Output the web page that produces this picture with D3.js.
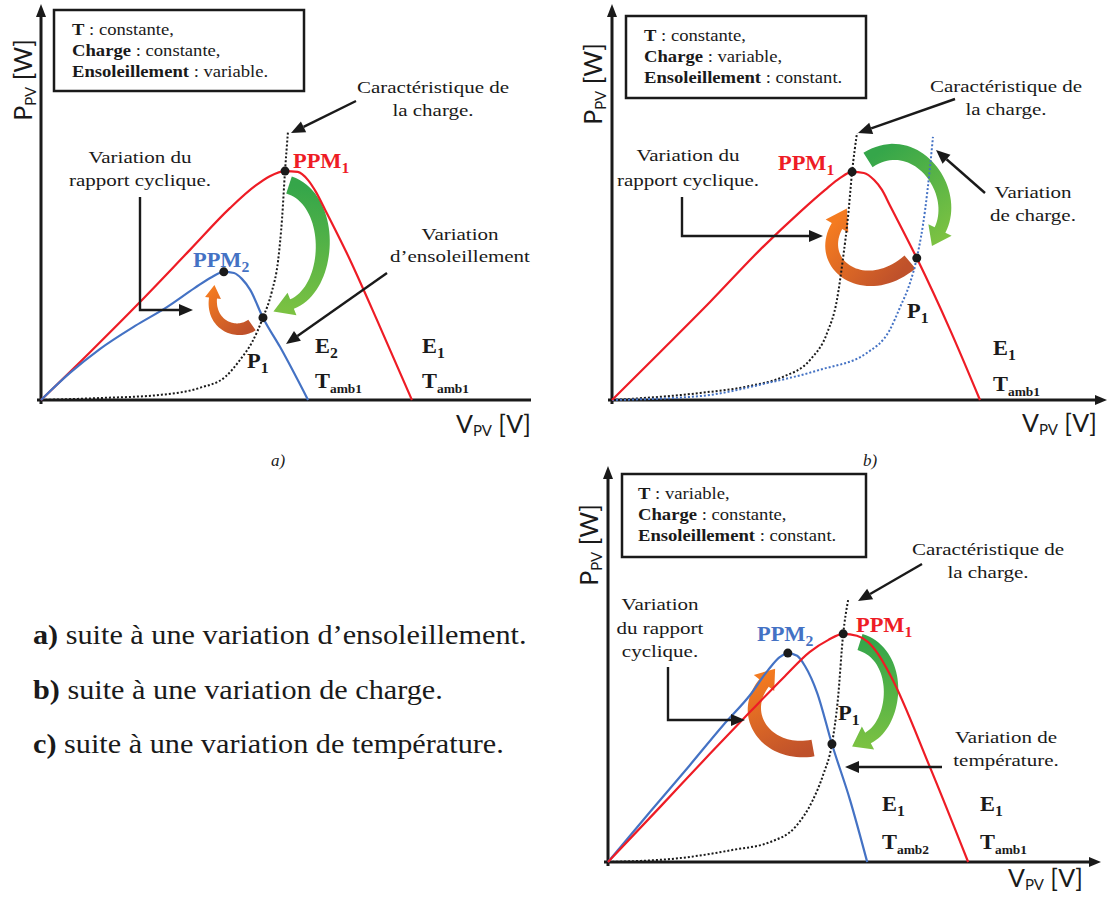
<!DOCTYPE html>
<html lang="fr">
<head>
<meta charset="UTF-8">
<title>Variation du point de puissance maximale</title>
<script src="https://d3js.org/d3.v7.min.js"></script>
<style>
  html, body { margin: 0; padding: 0; background: #fff; }
  svg { display: block; }
</style>
</head>
<body>
<svg id="fig" width="1108" height="897"></svg>
<script>
// Courbes P(V) normalisees : [V, P] en % de l'echelle de chaque cadre

// a) ensoleillement variable
var aE1 = [[0,0],[10.0,12.2],[20.2,25.0],[30.4,38.3],[38.6,49.0],[43.7,54.6],[46.7,57.1],[49.8,58.4],[52.4,58.2],[54.5,56.1],[56.1,53.1],[58.0,48.5],[62.4,37.5],[69.2,18.6],[75.7,0]];
var aE2 = [[0,0],[5.9,6.9],[12.0,13.0],[19.2,18.9],[25.7,23.7],[31.4,28.6],[34.9,31.4],[37.3,32.7],[39.4,32.4],[41.0,30.9],[42.7,28.1],[45.3,21.0],[48.8,13.5],[54.5,0]];
var aCharge = [[0,0],[12.0,0.5],[24.3,1.3],[32.4,3.1],[37.6,5.9],[40.6,10.2],[43.1,14.8],[45.3,21.0],[47.1,27.6],[48.4,35.7],[49.2,46.4],[49.8,58.4],[50.4,68.4]];
var aPoints = [[49.8,58.4],[37.3,32.7],[45.3,21.0]]; // PPM1, PPM2, P1

// b) charge variable
var bE1 = [[0,0],[9.8,12.2],[20.0,25.0],[30.2,38.3],[38.4,48.0],[43.5,53.6],[46.5,56.6],[49.0,58.2],[51.4,57.9],[53.5,56.1],[55.1,53.6],[56.7,49.7],[62.2,36.2],[69.0,17.9],[75.1,0]];
var bCharge1 = [[0,0],[18.0,1.8],[28.2,3.6],[34.9,5.9],[40.4,10.2],[43.9,17.1],[45.9,25.5],[47.1,35.7],[48.2,47.2],[49.0,58.2],[50.0,68.1]];
var bCharge2 = [[0,0],[18.0,1.0],[31.6,4.3],[42.4,7.7],[52.0,12.0],[56.7,17.9],[58.8,23.7],[60.8,29.8],[62.2,36.2],[63.9,48.5],[64.9,59.4],[65.5,67.1]];
var bPoints = [[49.0,58.2],[62.2,36.2]]; // PPM1, P1

// c) temperature variable
var cT1 = [[0,0],[10.6,14.0],[20.8,27.6],[29.0,38.3],[36.1,47.4],[41.2,53.6],[44.9,56.6],[48.0,58.2],[50.8,57.7],[53.1,56.1],[55.1,53.1],[57.6,47.7],[65.7,24.2],[73.5,0]];
var cT2 = [[0,0],[8.6,12.8],[16.7,24.7],[23.5,34.9],[29.0,42.6],[32.7,49.0],[35.1,52.3],[36.7,53.3],[38.6,52.6],[40.2,50.0],[42.7,43.1],[45.7,30.1],[49.4,15.8],[52.9,0]];
var cCharge = [[0,0],[14.7,1.0],[25.5,3.1],[33.1,5.1],[38.2,8.9],[41.8,15.8],[43.9,22.2],[45.7,30.1],[46.9,41.3],[48.0,58.2],[49.0,66.8]];
var cPoints = [[48.0,58.2],[36.7,53.3],[45.7,30.1]]; // PPM1, PPM2, P1

var SERIF = '"Liberation Serif", "Times New Roman", serif';
var SANS = 'Lato, "Noto Sans", "Liberation Sans", sans-serif';
var INK = "#1a1a1a";
var RED = "#ee1c25";
var BLUE = "#4472c4";
var GREEN = ["#35a64a", "#7cc242"];
var ORANGE = ["#bf512b", "#f47b20"];

var svg = d3.select("#fig");
var defs = svg.append("defs");
svg.append("rect").attr("width", 1108).attr("height", 897).attr("fill", "#fff");
var gradCount = 0;

// texte compose : parties en gras / indice
function addText(g, x, y, parts, o) {
  o = o || {};
  var tr = "translate(" + x + "," + y + ")" + (o.rot ? " rotate(" + o.rot + ")" : "") + " scale(" + (o.sx || 1) + ",1)";
  var t = g.append("text")
    .attr("transform", tr)
    .attr("font-family", o.font || SERIF)
    .attr("font-size", o.size || 17)
    .attr("fill", o.fill || INK)
    .attr("text-anchor", o.anchor || "start");
  var shift = 0;
  parts.forEach(function (p) {
    if (typeof p === "string") p = { t: p };
    var s = t.append("tspan").text(p.t);
    var target = p.sub ? (o.subDy || 5) : 0;
    if (target !== shift) { s.attr("dy", target - shift); shift = target; }
    if (p.b || o.bold) s.attr("font-weight", "bold");
    if (p.i || o.italic) s.attr("font-style", "italic");
    if (p.sub) s.attr("font-size", o.subSize || 13);
  });
  return t;
}

function arrowLine(g, pts, o) {
  o = o || {};
  var n = pts.length, a = pts[n - 2], b = pts[n - 1];
  var dx = b[0] - a[0], dy = b[1] - a[1], L = Math.hypot(dx, dy), ux = dx / L, uy = dy / L;
  var hl = o.hl || 14, hw = o.hw || 6;
  var base = [b[0] - ux * hl, b[1] - uy * hl];
  g.append("path")
    .attr("d", d3.line()(pts.slice(0, n - 1).concat([base])))
    .attr("fill", "none").attr("stroke", INK).attr("stroke-width", o.w || 2.4);
  g.append("path")
    .attr("d", d3.line()([b, [base[0] - uy * hw, base[1] + ux * hw], [base[0] + uy * hw, base[1] - ux * hw]]) + "Z")
    .attr("fill", INK);
}

// fleche courbe epaisse (bezier cubique) avec degrade
function bandArrow(g, a) {
  var P = a.p;
  function bez(t) {
    var u = 1 - t;
    return [0, 1].map(function (k) {
      return u*u*u*P[0][k] + 3*u*u*t*P[1][k] + 3*u*t*t*P[2][k] + t*t*t*P[3][k];
    });
  }
  function der(t) {
    var u = 1 - t;
    return [0, 1].map(function (k) {
      return 3*u*u*(P[1][k]-P[0][k]) + 6*u*t*(P[2][k]-P[1][k]) + 3*t*t*(P[3][k]-P[2][k]);
    });
  }
  var left = [], right = [];
  d3.range(41).forEach(function (i) {
    var t = i / 40, p = bez(t), d = der(t), L = Math.hypot(d[0], d[1]);
    var nx = -d[1] / L, ny = d[0] / L, w = (a.w0 + (a.w1 - a.w0) * t) / 2;
    left.push([p[0] + nx * w, p[1] + ny * w]);
    right.push([p[0] - nx * w, p[1] - ny * w]);
  });
  var d1 = der(1), L1 = Math.hypot(d1[0], d1[1]), ux = d1[0] / L1, uy = d1[1] / L1;
  var e = P[3], tip = [e[0] + ux * a.hl, e[1] + uy * a.hl];
  var h1 = [e[0] - uy * a.hw / 2, e[1] + ux * a.hw / 2], h2 = [e[0] + uy * a.hw / 2, e[1] - ux * a.hw / 2];
  var id = "grad" + (gradCount++);
  var lg = defs.append("linearGradient").attr("id", id).attr("gradientUnits", "userSpaceOnUse")
    .attr("x1", P[0][0]).attr("y1", P[0][1]).attr("x2", tip[0]).attr("y2", tip[1]);
  lg.append("stop").attr("offset", "0%").attr("stop-color", a.c[0]);
  lg.append("stop").attr("offset", "100%").attr("stop-color", a.c[1]);
  var poly = left.concat([h1, tip, h2]).concat(right.reverse());
  g.append("path").attr("d", d3.line()(poly) + "Z").attr("fill", "url(#" + id + ")");
}

function drawPanel(p) {
  var g = svg.append("g");
  var x = d3.scaleLinear().domain([0, 100]).range([p.origin[0], p.origin[0] + 490]);
  var y = d3.scaleLinear().domain([0, 100]).range([p.origin[1], p.origin[1] - 392]);

  // axes
  if (p.xArrow) {
    arrowLine(g, [[x(0) - 4, y(0)], [p.xEnd, y(0)]], { w: 3, hl: 12, hw: 5 });
  } else {
    g.append("line").attr("x1", x(0) - 4).attr("x2", p.xEnd).attr("y1", y(0)).attr("y2", y(0))
      .attr("stroke", INK).attr("stroke-width", 3);
  }
  arrowLine(g, [[x(0), y(0) + 4], [x(0), y(100) - 4]], { w: 3, hl: 13, hw: 5 });

  addText(g, p.yLabel[0], p.yLabel[1], ["P", { t: "PV", sub: true }, " [W]"],
    { font: SANS, size: 25, rot: -90, anchor: "middle", subSize: 15, subDy: 4 });
  addText(g, p.xLabel[0], p.xLabel[1], ["V", { t: "PV", sub: true }, " [V]"],
    { font: SANS, size: 25, anchor: "end", subSize: 15, subDy: 3 });

  // cadre des conditions
  var b = p.box;
  g.append("rect").attr("x", b[0]).attr("y", b[1]).attr("width", b[2] - b[0]).attr("height", b[3] - b[1])
    .attr("fill", "#fff").attr("stroke", INK).attr("stroke-width", 2.5);
  p.boxLines.forEach(function (l, i) {
    addText(g, b[0] + p.boxPad, b[1] + 25 + i * 21, [{ t: l[0], b: true }, l[1]], { size: 16.5, sx: 1.13 });
  });

  p.bands.forEach(function (a) { bandArrow(g, a); });

  p.curves.forEach(function (c) {
    var line = d3.line().x(function (d) { return x(d[0]); }).y(function (d) { return y(d[1]); })
      .curve(d3.curveMonotoneX);
    g.append("path").datum(c.data).attr("d", line)
      .attr("fill", "none").attr("stroke", c.color)
      .attr("stroke-width", c.dash ? 2 : 2.2)
      .attr("stroke-dasharray", c.dash ? "2 2" : null);
  });

  g.selectAll("circle.pt").data(p.points).enter().append("circle")
    .attr("cx", function (d) { return x(d[0]); }).attr("cy", function (d) { return y(d[1]); })
    .attr("r", 4.5).attr("fill", INK);

  p.arrows.forEach(function (a) { arrowLine(g, a, { w: 2.4, hl: 14, hw: 6 }); });

  p.notes.forEach(function (n) {
    addText(g, n[0], n[1], [n[2]], { size: 17.5, sx: 1.2, anchor: "middle" });
  });
  p.tags.forEach(function (t) {
    addText(g, t.at[0], t.at[1], [t.base, { t: t.sub, sub: true }],
      { size: 20, sx: 1.12, bold: true, fill: t.fill || INK, subSize: t.subSize || 14, subDy: 5 });
  });
  if (p.caption) {
    addText(g, p.caption[0], p.caption[1], [p.caption[2]], { size: 17, italic: true, anchor: "middle" });
  }
}

drawPanel({
  origin: [41, 400], xEnd: 531, xArrow: false,
  yLabel: [32, 80], xLabel: [531, 433],
  box: [54, 10, 304, 91], boxPad: 18,
  boxLines: [["T", " : constante,"], ["Charge", " : constante,"], ["Ensoleillement", " : variable."]],
  curves: [{ data: aCharge, color: INK, dash: true }, { data: aE1, color: RED }, { data: aE2, color: BLUE }],
  points: aPoints,
  bands: [
    { p: [[289, 185], [335, 200], [332, 288], [292, 304]], w0: 18, w1: 10, hl: 20, hw: 24, c: GREEN },
    { p: [[252, 325], [236, 336], [210, 325], [213, 298]], w0: 13, w1: 8, hl: 13, hw: 16, c: ORANGE }
  ],
  arrows: [
    [[356, 101], [291, 133]],
    [[140, 197], [140, 310], [193, 310]],
    [[387, 273], [286, 344]]
  ],
  notes: [
    [433, 93, "Caractéristique de"], [433, 116, "la charge."],
    [140, 163, "Variation du"], [140, 186, "rapport cyclique."],
    [460, 240, "Variation"], [460, 262, "d’ensoleillement"]
  ],
  tags: [
    { at: [293, 168], base: "PPM", sub: "1", fill: RED },
    { at: [193, 267], base: "PPM", sub: "2", fill: BLUE },
    { at: [247, 368], base: "P", sub: "1" },
    { at: [315, 353], base: "E", sub: "2" },
    { at: [422, 353], base: "E", sub: "1" },
    { at: [315, 388], base: "T", sub: "amb1", subSize: 12 },
    { at: [422, 388], base: "T", sub: "amb1", subSize: 12 }
  ],
  caption: [278, 466, "a)"]
});

drawPanel({
  origin: [612, 400], xEnd: 1107, xArrow: true,
  yLabel: [602, 84], xLabel: [1097, 432],
  box: [626, 16, 866, 98], boxPad: 18,
  boxLines: [["T", " : constante,"], ["Charge", " : variable,"], ["Ensoleillement", " : constant."]],
  curves: [{ data: bCharge1, color: INK, dash: true }, { data: bCharge2, color: BLUE, dash: true }, { data: bE1, color: RED }],
  points: bPoints,
  bands: [
    { p: [[868, 160], [915, 130], [960, 190], [940, 230]], w0: 17, w1: 12, hl: 18, hw: 26, c: GREEN },
    { p: [[910, 262], [865, 300], [815, 265], [837, 226]], w0: 17, w1: 12, hl: 20, hw: 26, c: ORANGE }
  ],
  arrows: [
    [[955, 99], [858, 133]],
    [[682, 197], [682, 236], [823, 236]],
    [[985, 193], [936, 150]]
  ],
  notes: [
    [1006, 92, "Caractéristique de"], [1006, 115, "la charge."],
    [688, 161, "Variation du"], [688, 186, "rapport cyclique."],
    [1033, 198, "Variation"], [1033, 221, "de charge."]
  ],
  tags: [
    { at: [778, 170], base: "PPM", sub: "1", fill: RED },
    { at: [907, 318], base: "P", sub: "1" },
    { at: [993, 355], base: "E", sub: "1" },
    { at: [993, 391], base: "T", sub: "amb1", subSize: 12 }
  ],
  caption: [870, 466, "b)"]
});

drawPanel({
  origin: [608, 862], xEnd: 1101, xArrow: true,
  yLabel: [598, 545], xLabel: [1083, 887],
  box: [622, 474, 866, 557], boxPad: 16,
  boxLines: [["T", " : variable,"], ["Charge", " : constante,"], ["Ensoleillement", " : constant."]],
  curves: [{ data: cCharge, color: INK, dash: true }, { data: cT2, color: BLUE }, { data: cT1, color: RED }],
  points: cPoints,
  bands: [
    { p: [[860, 642], [902, 655], [898, 722], [868, 738]], w0: 17, w1: 12, hl: 18, hw: 26, c: GREEN },
    { p: [[813, 748], [768, 756], [738, 716], [764, 683]], w0: 17, w1: 12, hl: 18, hw: 26, c: ORANGE }
  ],
  arrows: [
    [[922, 564], [858, 601]],
    [[668, 667], [668, 720], [745, 720]],
    [[942, 767], [845, 767]]
  ],
  notes: [
    [988, 555, "Caractéristique de"], [988, 578, "la charge."],
    [660, 610, "Variation"], [660, 634, "du rapport"], [660, 657, "cyclique."],
    [1006, 743, "Variation de"], [1006, 766, "température."]
  ],
  tags: [
    { at: [856, 632], base: "PPM", sub: "1", fill: RED },
    { at: [757, 641], base: "PPM", sub: "2", fill: BLUE },
    { at: [838, 720], base: "P", sub: "1" },
    { at: [882, 811], base: "E", sub: "1" },
    { at: [980, 811], base: "E", sub: "1" },
    { at: [882, 849], base: "T", sub: "amb2", subSize: 12 },
    { at: [980, 849], base: "T", sub: "amb1", subSize: 12 }
  ],
  caption: null
});

// legende des trois cas
var legend = [
  ["a)", " suite à une variation d’ensoleillement."],
  ["b)", " suite à une variation de charge."],
  ["c)", " suite à une variation de température."]
];
legend.forEach(function (l, i) {
  addText(svg, 33, 644 + i * 54.5, [{ t: l[0], b: true }, l[1]], { size: 28, sx: 1.08 });
});
</script>
</body>
</html>
